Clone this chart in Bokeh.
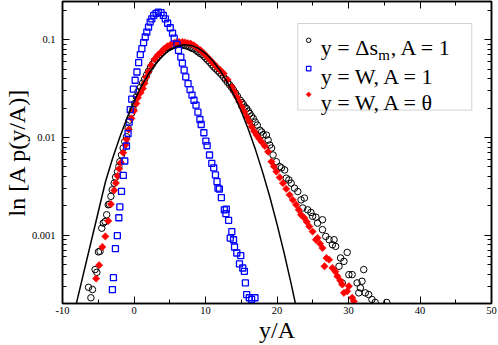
from bokeh.plotting import figure
from bokeh.models import (Range1d, LinearAxis, LogAxis, FixedTicker,
                          BoxAnnotation, Label)
from bokeh.embed import file_html
from bokeh.resources import INLINE

# ---------------- data ----------------
# y = Delta s_m, A = 1  (black open circles)
delta_s_pts = [
    (-6.36, 2.93e-4), (-6.03, 2.29e-4), (-5.81, 2.78e-4), (-5.44, 4.45e-4),
    (-5.20, 4.17e-4), (-4.98, 6.75e-4), (-4.75, 6.84e-4), (-4.51, 1.18e-3),
    (-4.29, 1.33e-3), (-4.05, 1.38e-3), (-3.82, 1.62e-3), (-3.60, 2.05e-3),
    (-3.46, 2.08e-3), (-3.23, 2.50e-3), (-3.05, 2.91e-3), (-2.77, 3.41e-3),
    (-2.58, 3.93e-3), (-2.30, 4.48e-3), (-2.12, 5.04e-3), (-1.98, 5.66e-3),
    (-1.75, 6.63e-3), (-1.52, 7.81e-3), (-1.29, 9.10e-3), (-1.05, 1.02e-2),
    (-0.83, 1.25e-2), (-0.60, 1.51e-2), (-0.32, 1.78e-2), (-0.14, 1.96e-2),
    (0.09, 2.23e-2), (0.33, 2.61e-2), (0.55, 2.93e-2), (0.92, 3.27e-2),
    (1.20, 3.60e-2), (1.48, 3.95e-2), (1.75, 4.35e-2), (2.03, 4.77e-2),
    (2.31, 5.24e-2), (2.58, 5.62e-2), (2.86, 6.04e-2), (3.13, 6.40e-2),
    (3.41, 6.79e-2), (3.69, 7.11e-2), (3.96, 7.45e-2), (4.24, 7.82e-2),
    (4.52, 8.09e-2), (4.79, 8.28e-2), (5.07, 8.49e-2), (5.35, 8.69e-2),
    (5.62, 8.79e-2), (5.90, 8.89e-2), (6.18, 9.00e-2), (6.45, 9.00e-2),
    (6.73, 8.89e-2), (7.01, 8.79e-2), (7.28, 8.69e-2), (7.56, 8.59e-2),
    (7.84, 8.38e-2), (8.11, 8.19e-2), (8.39, 8.09e-2), (8.67, 7.82e-2),
    (8.94, 7.55e-2), (9.22, 7.28e-2), (9.50, 7.11e-2), (9.77, 6.79e-2),
    (10.05, 6.48e-2), (10.32, 6.18e-2), (10.60, 5.89e-2), (10.88, 5.56e-2),
    (11.15, 5.28e-2), (11.43, 5.06e-2), (11.71, 4.83e-2), (11.98, 4.61e-2),
    (12.26, 4.40e-2), (12.54, 4.14e-2), (12.81, 3.91e-2), (13.09, 3.68e-2),
    (13.37, 3.47e-2), (13.64, 3.27e-2), (13.92, 3.05e-2), (14.20, 2.84e-2),
    (14.47, 2.65e-2), (14.85, 2.41e-2), (15.09, 2.28e-2), (15.30, 2.17e-2),
    (15.51, 2.05e-2), (15.76, 1.98e-2), (15.99, 1.86e-2), (16.20, 1.76e-2),
    (16.41, 1.66e-2), (16.68, 1.57e-2), (16.96, 1.44e-2), (17.24, 1.34e-2),
    (17.61, 1.19e-2), (17.86, 1.14e-2), (18.07, 1.07e-2), (18.52, 1.06e-2),
    (18.76, 9.42e-3), (18.99, 8.38e-3), (19.24, 7.81e-3), (19.45, 6.63e-3),
    (19.91, 5.66e-3), (20.38, 5.04e-3), (20.62, 4.89e-3), (21.07, 4.66e-3),
    (21.29, 3.84e-3), (21.66, 3.68e-3), (21.98, 3.41e-3), (22.45, 3.03e-3),
    (22.91, 2.80e-3), (23.36, 2.30e-3), (23.83, 2.40e-3), (23.60, 1.90e-3),
    (24.29, 1.82e-3), (24.75, 1.71e-3), (24.98, 1.56e-3), (25.44, 1.53e-3),
    (25.67, 1.33e-3), (26.36, 1.44e-3), (26.36, 1.14e-3), (26.82, 9.73e-4),
    (27.29, 8.99e-4), (27.75, 8.00e-4), (27.98, 8.99e-4), (28.20, 7.69e-4),
    (28.89, 5.85e-4), (29.36, 5.40e-4), (29.82, 6.67e-4), (28.67, 4.81e-4),
    (30.05, 3.95e-4), (30.51, 3.95e-4), (29.13, 3.25e-4), (31.20, 3.25e-4),
    (32.13, 4.45e-4), (31.66, 2.89e-4), (31.89, 3.38e-4), (31.44, 2.57e-4),
    (32.35, 2.57e-4), (32.82, 2.47e-4), (33.28, 2.20e-4), (33.73, 2.05e-4),
    (35.35, 2.05e-4),
]

# y = W, A = 1  (blue open squares)
w_pts = [
    (-3.02, 2.78e-4), (-2.88, 3.68e-4), (-2.60, 7.28e-4), (-2.33, 9.89e-4),
    (-2.12, 1.51e-3), (-1.98, 1.95e-3), (-1.75, 2.81e-3), (-1.50, 4.09e-3),
    (-1.29, 5.75e-3), (-1.05, 8.19e-3), (-0.83, 1.10e-2), (-0.67, 1.44e-2),
    (-0.53, 1.93e-2), (-0.32, 2.47e-2), (-0.09, 3.13e-2), (0.16, 3.86e-2),
    (0.41, 4.69e-2), (0.65, 5.85e-2), (0.88, 7.06e-2), (1.10, 8.13e-2),
    (1.34, 9.36e-2), (1.57, 0.107), (1.79, 0.120), (2.03, 0.135),
    (2.26, 0.152), (2.49, 0.164), (2.76, 0.178), (3.09, 0.187),
    (3.41, 0.192), (3.78, 0.190), (4.10, 0.178), (4.38, 0.164),
    (4.70, 0.148), (5.07, 0.133), (5.39, 0.117), (5.62, 0.104),
    (6.00, 9.00e-2), (6.22, 7.82e-2), (6.55, 6.67e-2), (6.77, 5.79e-2),
    (7.01, 4.89e-2), (7.24, 4.17e-2), (7.56, 3.57e-2), (7.84, 3.10e-2),
    (8.11, 2.72e-2), (8.39, 2.41e-2), (8.67, 2.15e-2), (8.94, 1.82e-2),
    (9.22, 1.53e-2), (9.40, 1.36e-2), (9.77, 1.12e-2), (10.05, 9.20e-3),
    (10.23, 8.28e-3), (10.56, 6.63e-3), (10.88, 5.43e-3), (11.15, 4.89e-3),
    (11.39, 4.14e-3), (11.61, 3.54e-3), (11.75, 3.03e-3), (11.94, 2.96e-3),
    (12.22, 2.43e-3), (12.63, 1.82e-3), (12.91, 1.85e-3), (12.85, 1.66e-3),
    (13.23, 1.42e-3), (13.68, 1.09e-3), (13.46, 9.36e-4), (13.92, 8.99e-4),
    (14.06, 7.58e-4), (14.38, 6.58e-4), (14.93, 6.18e-4), (14.75, 5.08e-4),
    (15.21, 4.62e-4), (15.44, 4.27e-4), (15.58, 3.25e-4), (15.76, 2.47e-4),
    (16.13, 2.29e-4), (16.45, 2.20e-4), (16.92, 2.29e-4),
]

# y = W, A = theta  (red filled diamonds)
w_theta_pts = [
    (-5.30, 3.60e-4), (-4.88, 4.94e-4), (-4.43, 7.58e-4), (-4.01, 9.73e-4),
    (-3.60, 1.40e-3), (-3.23, 2.08e-3), (-2.77, 2.88e-3), (-2.53, 3.43e-3),
    (-2.30, 4.04e-3), (-2.08, 4.78e-3), (-1.84, 5.53e-3), (-1.52, 7.00e-3),
    (-1.19, 8.38e-3), (-1.05, 9.59e-3), (-0.74, 1.21e-2), (-0.36, 1.57e-2),
    (0.00, 1.88e-2), (0.33, 2.23e-2), (0.55, 2.56e-2), (0.92, 2.88e-2),
    (1.24, 3.18e-2), (1.48, 3.60e-2), (1.71, 4.14e-2), (2.03, 4.71e-2),
    (2.40, 5.49e-2), (2.86, 6.32e-2), (3.31, 6.95e-2), (3.76, 7.45e-2),
    (4.24, 8.13e-2), (4.66, 8.59e-2), (5.07, 8.89e-2), (5.62, 9.28e-2),
    (5.90, 9.38e-2), (6.31, 9.54e-2), (6.77, 9.50e-2), (7.14, 9.43e-2),
    (7.56, 9.25e-2), (7.93, 9.15e-2), (8.39, 8.79e-2), (8.80, 8.32e-2),
    (9.32, 7.82e-2), (9.77, 7.28e-2), (10.23, 6.71e-2), (10.70, 6.18e-2),
    (11.15, 5.69e-2), (11.61, 5.24e-2), (12.08, 4.89e-2), (12.54, 4.52e-2),
    (13.09, 3.91e-2), (13.68, 3.30e-2), (14.03, 2.94e-2), (14.38, 2.61e-2),
    (14.72, 2.33e-2), (15.07, 2.06e-2), (15.41, 1.84e-2), (15.76, 1.63e-2),
    (16.10, 1.46e-2), (16.45, 1.29e-2), (16.80, 1.16e-2), (17.14, 1.06e-2),
    (17.49, 9.78e-3), (17.83, 9.06e-3), (18.30, 8.19e-3), (18.76, 7.16e-3),
    (19.21, 5.66e-3), (19.56, 5.06e-3), (19.91, 4.48e-3), (20.38, 3.91e-3),
    (20.83, 3.41e-3), (21.29, 2.98e-3), (21.76, 2.59e-3), (22.21, 2.30e-3),
    (22.67, 2.05e-3), (23.04, 1.82e-3), (23.36, 1.62e-3), (23.83, 1.50e-3),
    (24.15, 1.37e-3), (24.52, 1.23e-3), (24.98, 1.09e-3), (25.44, 8.99e-4),
    (25.67, 9.36e-4), (26.02, 8.19e-4), (26.36, 7.40e-4), (26.64, 4.81e-4),
    (26.92, 5.85e-4), (27.29, 5.62e-4), (27.75, 4.62e-4), (28.16, 4.25e-4),
    (28.44, 3.80e-4), (28.85, 3.43e-4), (29.13, 3.13e-4), (29.36, 2.57e-4),
    (29.82, 2.67e-4), (30.05, 3.01e-4), (30.51, 2.29e-4), (30.75, 2.11e-4),
]

# solid black reference curve
fit_pts = [
    (-8.5, 1.47e-4), (-8, 2.09e-4), (-7, 4.24e-4), (-6, 8.57e-4),
    (-5, 1.73e-3), (-4, 3.51e-3), (-3, 6.09e-3), (-2, 1.00e-2),
    (-1, 1.57e-2), (0, 2.34e-2), (1, 3.31e-2), (2, 4.44e-2),
    (3, 5.65e-2), (4, 6.84e-2), (5, 7.87e-2), (6, 8.59e-2),
    (7, 8.91e-2), (8, 8.77e-2), (9, 8.20e-2), (10, 7.28e-2),
    (11, 6.14e-2), (12, 4.92e-2), (13, 3.74e-2), (14, 2.70e-2),
    (15, 1.86e-2), (16, 1.21e-2), (17, 7.48e-3), (18, 4.40e-3),
    (19, 2.46e-3), (20, 1.30e-3), (21, 6.56e-4), (22, 3.14e-4),
    (23, 1.43e-4),
]

x_ticks = [-10, 0, 10, 20, 30, 40, 50]
x_tick_labels = ["-10", "0", "10", "20", "30", "40", "50"]
x_minor_ticks = [-5, 5, 15, 25, 35, 45]
y_ticks = [0.001, 0.01, 0.1]
y_tick_labels = ["0.001", "0.01", "0.1"]

legend_labels = ["y = W, A = 1", "y = W, A = θ"]

# ---------------- figure ----------------
FONT = "Liberation Serif"

p = figure(width=498, height=345,
           x_range=Range1d(-10, 50), y_range=Range1d(2.0e-4, 0.247),
           y_axis_type="log", output_backend="svg", toolbar_location=None,
           min_border_left=57, min_border_right=7, min_border_top=1,
           min_border_bottom=0)
p.grid.visible = False
p.outline_line_color = "black"
p.outline_line_width = 1.5
p.background_fill_color = "white"
p.border_fill_color = "white"

y_minor = [k * 10.0 ** e for e in range(-4, 0) for k in range(2, 10)]


def style_axis(ax, labels=True):
    ax.major_tick_in = 7
    ax.major_tick_out = 0
    ax.minor_tick_in = 4
    ax.minor_tick_out = 0
    ax.major_tick_line_color = "black"
    ax.minor_tick_line_color = "black"
    ax.major_tick_line_width = 1
    ax.minor_tick_line_width = 1
    ax.axis_line_color = "black"
    ax.axis_line_width = 1.5
    ax.major_label_text_font = FONT
    ax.major_label_text_color = "black"
    ax.axis_label_text_font = FONT
    ax.axis_label_text_font_size = "24px"
    ax.axis_label_text_font_style = "normal"
    ax.axis_label_text_color = "black"
    if labels:
        ax.major_label_text_font_size = "10.5px"
    else:
        ax.major_label_text_font_size = "1px"
        ax.major_label_text_alpha = 0
        ax.major_label_standoff = 0


xa = p.xaxis[0]
xa.ticker = FixedTicker(ticks=x_ticks, minor_ticks=x_minor_ticks)
xa.major_label_overrides = {t: s for t, s in zip(x_ticks, x_tick_labels)}
style_axis(xa)
xa.axis_label = "y/A"
xa.major_label_standoff = 3
xa.axis_label_standoff = 0

ya = p.yaxis[0]
ya.ticker = FixedTicker(ticks=y_ticks, minor_ticks=y_minor)
ya.major_label_overrides = {t: s for t, s in zip(y_ticks, y_tick_labels)}
style_axis(ya)
ya.axis_label = "ln [A p(y/A)]"
ya.major_label_standoff = 7
ya.axis_label_standoff = -1

top = LinearAxis(ticker=FixedTicker(ticks=x_ticks, minor_ticks=x_minor_ticks))
style_axis(top, labels=False)
p.add_layout(top, "above")

right = LogAxis(ticker=FixedTicker(ticks=y_ticks, minor_ticks=y_minor))
style_axis(right, labels=False)
p.add_layout(right, "right")

# ---------------- data marks ----------------
p.scatter([q[0] for q in delta_s_pts], [q[1] for q in delta_s_pts],
          marker="circle", size=6.5, fill_color=None,
          line_color="black", line_width=1)
p.scatter([q[0] for q in w_theta_pts], [q[1] for q in w_theta_pts],
          marker="square", angle=0.7854, size=5.2, fill_color="#ff0000",
          line_color="#ff0000", line_width=0.5)
p.scatter([q[0] for q in w_pts], [q[1] for q in w_pts],
          marker="square", size=6, fill_color=None,
          line_color="#0000ff", line_width=1.3)
p.line([q[0] for q in fit_pts], [q[1] for q in fit_pts],
       line_color="black", line_width=1.5)

# ---------------- legend (drawn by hand for the subscript) ----------------
box = BoxAnnotation(left=22.91, right=47.24, bottom=0.0191, top=0.147,
                    fill_color="white", fill_alpha=1.0,
                    line_color="#6e6e6e", line_width=1, level="underlay")
p.add_layout(box)

p.scatter([24.43], [0.0989], marker="circle", size=4.5, fill_color=None,
          line_color="black", line_width=1)
p.scatter([24.43], [0.0508], marker="square", size=4.5, fill_color=None,
          line_color="#0000ff", line_width=1.2)
p.scatter([24.43], [0.0276], marker="square", angle=0.7854, size=3.6,
          fill_color="#ff0000", line_color="#ff0000", line_width=0.5)

lab_kw = dict(text_font=FONT, text_color="black", text_align="left",
              text_baseline="alphabetic")
p.add_layout(Label(x=26.13, y=0.0829, text="y = Δs", text_font_size="22px", **lab_kw))
p.add_layout(Label(x=34.15, y=0.0695, text="m", text_font_size="15px", **lab_kw))
p.add_layout(Label(x=35.92, y=0.0829, text=", A = 1", text_font_size="22px", **lab_kw))
p.add_layout(Label(x=26.13, y=0.0424, text=legend_labels[0], text_font_size="22px", **lab_kw))
p.add_layout(Label(x=26.13, y=0.0230, text=legend_labels[1], text_font_size="22px", **lab_kw))

open("out.html", "w").write(file_html(p, INLINE))
